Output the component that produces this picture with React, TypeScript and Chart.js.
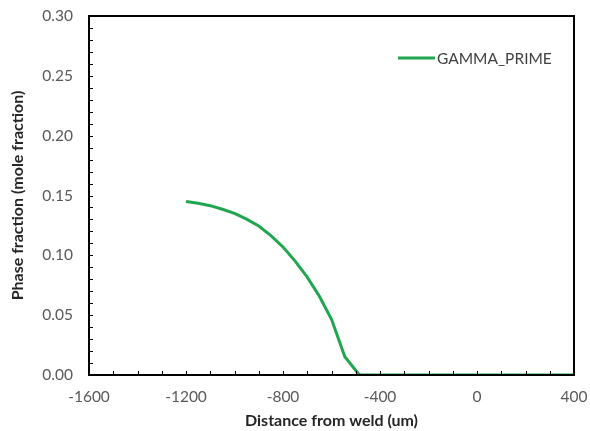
import React, { useEffect, useRef } from "react";
import { Chart, registerables } from "chart.js";

Chart.register(...registerables);

const distances = [-1200, -1150, -1100, -1050, -1000, -950, -900, -850, -800, -750, -700, -650, -600, -545, -485, -400, -300, -200, -100, 0, 100, 200, 300, 400];
const gammaPrime = [0.145, 0.1435, 0.1415, 0.1385, 0.135, 0.1302, 0.1245, 0.1165, 0.107, 0.0952, 0.0818, 0.0658, 0.0465, 0.0153, 0, 0, 0, 0, 0, 0, 0, 0, 0, 0];
const seriesLabel = "GAMMA_PRIME";
const xTicks = [-1600, -1200, -800, -400, 0, 400];
const yTicks = [0, 0.05, 0.1, 0.15, 0.2, 0.25, 0.3];
const xTitle = "Distance from weld (um)";
const yTitle = "Phase fraction (mole fraction)";

const LINE_COLOR = "#21a650";
const FONT = "Lato, 'Open Sans', sans-serif";

const framePlugin = {
  id: "frame",
  afterDraw(chart: any) {
    const { ctx, chartArea: a, scales } = chart;
    ctx.save();
    ctx.strokeStyle = "#000";
    ctx.lineWidth = 1;
    const xs = scales.x, ys = scales.y;
    for (let v = xs.min; v <= xs.max + 1e-9; v += 100) {
      const px = Math.round(xs.getPixelForValue(v)) + 0.5;
      ctx.beginPath();
      ctx.moveTo(px, a.bottom);
      ctx.lineTo(px, a.bottom - 4);
      ctx.stroke();
    }
    for (let i = 0; i <= 30; i++) {
      const py = Math.round(ys.getPixelForValue(i * 0.01)) + 0.5;
      ctx.beginPath();
      ctx.moveTo(a.left, py);
      ctx.lineTo(a.left + 4, py);
      ctx.stroke();
    }
    ctx.lineWidth = 2;
    ctx.strokeRect(a.left, a.top, a.right - a.left, a.bottom - a.top);
    const ds = chart.data.datasets[0];
    const ly = 58;
    ctx.strokeStyle = ds.borderColor;
    ctx.lineWidth = 3;
    ctx.beginPath();
    ctx.moveTo(398, ly);
    ctx.lineTo(435, ly);
    ctx.stroke();
    ctx.fillStyle = "#404040";
    ctx.font = `15.5px ${FONT}`;
    ctx.textBaseline = "middle";
    ctx.textAlign = "left";
    ctx.fillText(ds.label, 437, ly + 1);
    ctx.restore();
  },
};

export default function App() {
  const ref = useRef<HTMLCanvasElement>(null);
  useEffect(() => {
    const chart = new Chart(ref.current!, {
      type: "line",
      data: {
        datasets: [
          {
            label: seriesLabel,
            data: distances.map((x, i) => ({ x, y: gammaPrime[i] })),
            borderColor: LINE_COLOR,
            backgroundColor: LINE_COLOR,
            borderWidth: 3,
            pointRadius: 0,
            tension: 0,
          },
        ],
      },
      options: {
        animation: false,
        responsive: false,
        maintainAspectRatio: false,
        layout: { padding: { left: 0, top: 16, right: 16, bottom: 0 } },
        plugins: { legend: { display: false }, tooltip: { enabled: false } },
        scales: {
          x: {
            type: "linear",
            min: -1600,
            max: 400,
            afterBuildTicks: (s: any) => {
              s.ticks = xTicks.map((v) => ({ value: v }));
            },
            afterFit: (s: any) => {
              s.height = 56;
              s.paddingLeft = 0;
              s.paddingRight = 0;
            },
            grid: { display: false, drawTicks: false },
            border: { display: false },
            ticks: {
              padding: 13,
              color: "#595959",
              font: { family: FONT, size: 15.5 },
              callback: (v: any) => String(v),
            },
            title: {
              display: true,
              text: xTitle,
              color: "#262626",
              font: { family: FONT, size: 16, weight: "bold" },
              padding: { top: 0, bottom: 1 },
            },
          },
          y: {
            type: "linear",
            min: 0,
            max: 0.3,
            afterBuildTicks: (s: any) => {
              s.ticks = yTicks.map((v) => ({ value: v }));
            },
            afterFit: (s: any) => {
              s.width = 89;
              s.paddingTop = 0;
              s.paddingBottom = 0;
            },
            grid: { display: false, drawTicks: false },
            border: { display: false },
            ticks: {
              padding: 16,
              color: "#595959",
              font: { family: FONT, size: 15.5 },
              callback: (v: any) => Number(v).toFixed(2),
            },
            title: {
              display: true,
              text: yTitle,
              color: "#262626",
              font: { family: FONT, size: 16, weight: "bold" },
              padding: { top: 8, bottom: 0 },
            },
          },
        },
      },
      plugins: [framePlugin],
    } as any);
    return () => chart.destroy();
  }, []);
  return (
    <div style={{ position: "fixed", left: 0, top: 0, width: 590, height: 431, background: "#fff" }}>
      <canvas ref={ref} width={590} height={431} style={{ width: 590, height: 431 }} />
    </div>
  );
}
